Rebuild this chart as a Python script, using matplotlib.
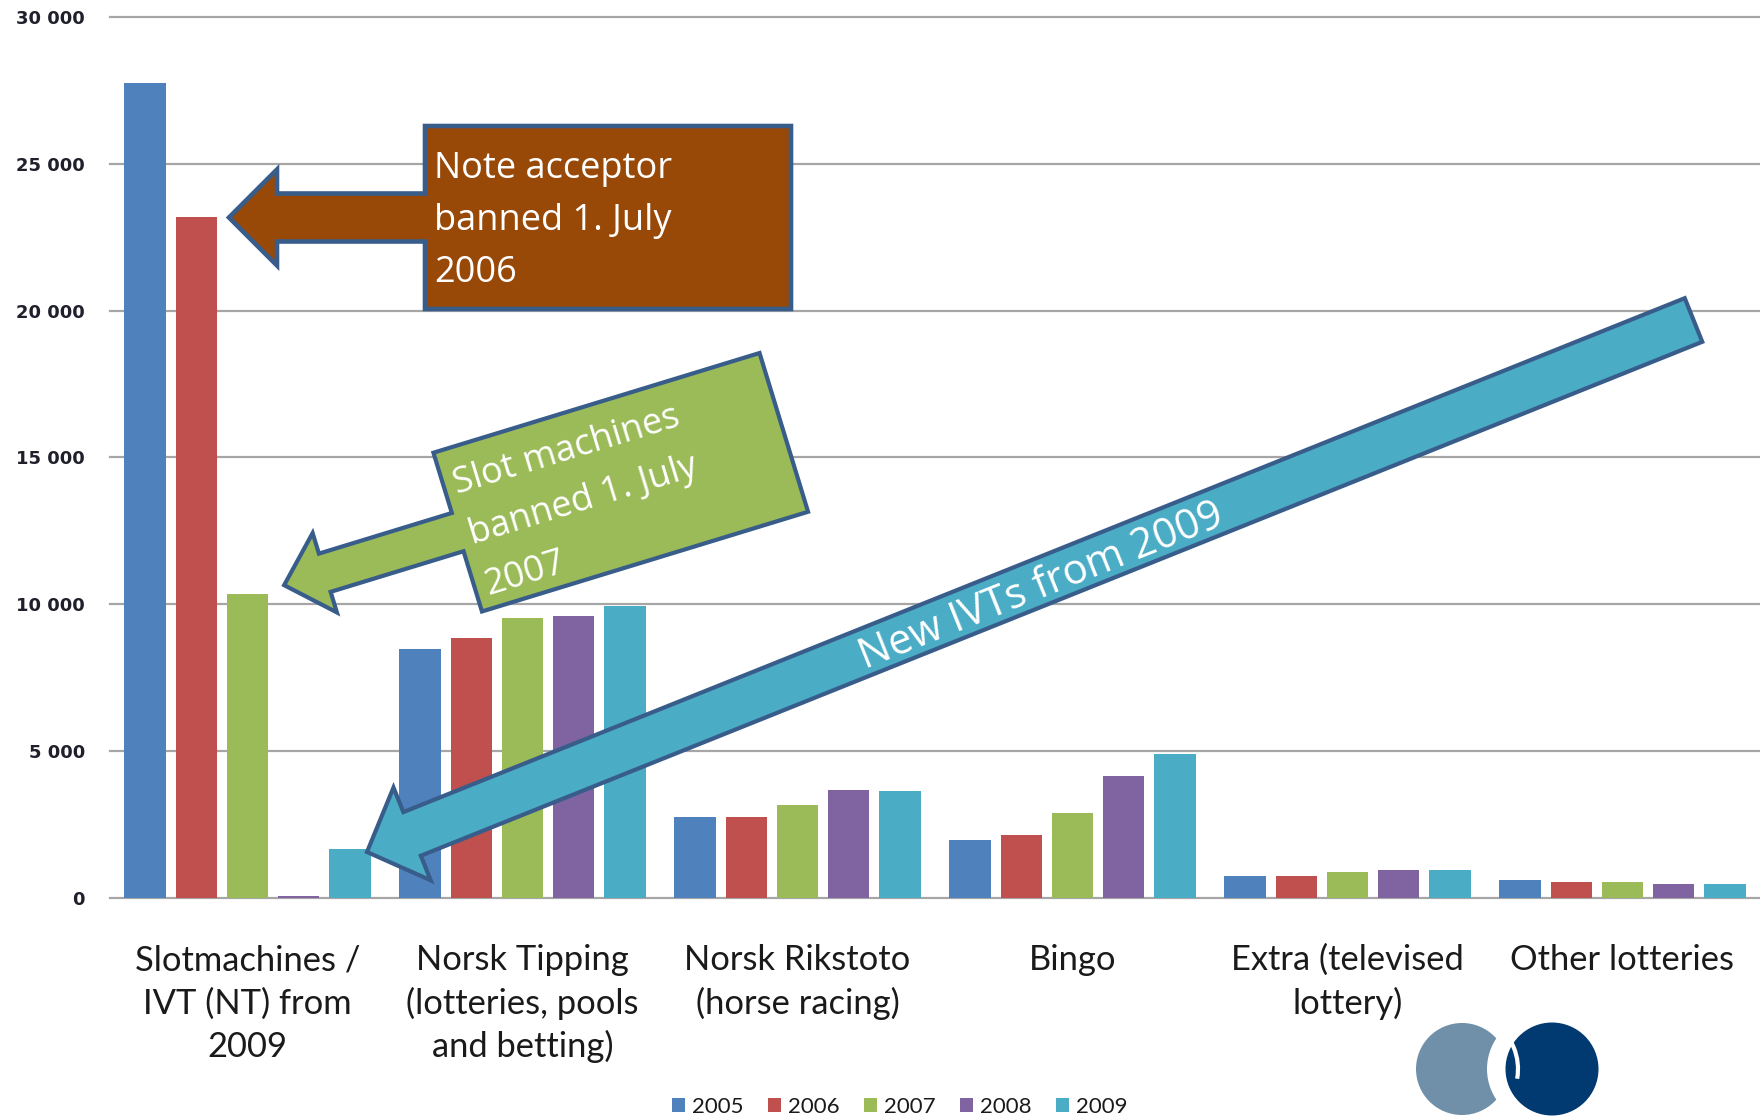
import matplotlib
matplotlib.use("Agg")
import matplotlib.pyplot as plt
import numpy as np
from matplotlib.patches import Polygon, Circle, Arc, Patch
from matplotlib.transforms import Affine2D, blended_transform_factory
from matplotlib.ticker import FuncFormatter

# ---------------- data ----------------
categories = [
    "Slotmachines /\nIVT (NT) from\n2009",
    "Norsk Tipping\n(lotteries, pools\nand betting)",
    "Norsk Rikstoto\n(horse racing)",
    "Bingo",
    "Extra (televised\nlottery)",
    "Other lotteries",
]
years = ["2005", "2006", "2007", "2008", "2009"]
values_2005 = [27750, 8470, 2750, 1960, 750, 610]
values_2006 = [23200, 8870, 2750, 2150, 750, 550]
values_2007 = [10360, 9530, 3150, 2890, 880, 545]
values_2008 = [80, 9600, 3680, 4160, 950, 490]
values_2009 = [1660, 9945, 3630, 4890, 950, 490]
ytick_values = [0, 5000, 10000, 15000, 20000, 25000, 30000]

note_1 = ["Note acceptor", "banned 1. July", "2006"]
note_2 = ["Slot machines", "banned 1. July", "2007"]
note_3 = "New IVTs from 2009"

series = [values_2005, values_2006, values_2007, values_2008, values_2009]
colors = ["#4f81bd", "#c0504d", "#9bbb59", "#8064a2", "#4bacc6"]

# ---------------- figure ----------------
W, H = 1760, 1118
fig = plt.figure(figsize=(W / 100, H / 100), dpi=100)
fig.patch.set_facecolor("white")
ax = fig.add_axes([110 / W, 1 - 898 / H, 1650 / W, 881 / H])

# pixel transform (reference pixel coords, y down)
pix = Affine2D().scale(1 / W, -1 / H).translate(0, 1) + fig.transFigure

x = np.arange(len(categories))
bw = 0.151
step = 0.186
for j, (yr, vals, c) in enumerate(zip(years, series, colors)):
    ax.bar(x + (j - 2) * step, vals, width=bw, color=c, edgecolor="none",
           zorder=2, label=yr)

ax.set_xlim(-0.5, 5.5)
ax.set_ylim(0, 30000)
ax.set_yticks(ytick_values)
ax.yaxis.set_major_formatter(FuncFormatter(lambda v, p: f"{int(v):,}".replace(",", " ")))
ax.tick_params(axis="y", length=0, pad=18, labelsize=13, labelcolor="#20202c")
plt.setp(ax.get_yticklabels(), fontweight="bold", family="DejaVu Sans")
ax.set_xticks(x)
ax.tick_params(axis="x", length=0, labelbottom=False)
ax.grid(axis="y", color="#a6a6a6", lw=1.6, zorder=0)
ax.set_axisbelow(True)
for t in ax.yaxis.get_major_ticks():
    t.gridline.set_clip_on(False)
for sp in ax.spines.values():
    sp.set_visible(False)

# category labels
tr = blended_transform_factory(ax.transData, pix)
baselines = [970, 1014, 1057]
for i, cat in enumerate(categories):
    for k, line in enumerate(cat.split("\n")):
        ax.text(i, baselines[k], line, transform=tr, ha="center", va="baseline",
                family="Lato", fontsize=24.8, color="#1a1a1a", clip_on=False)

# legend
handles = [Patch(facecolor=c, edgecolor="none") for c in colors]
fig.legend(handles, years, loc="center", bbox_to_anchor=(899.5 / W, 1 - 1107 / H),
           ncol=5, frameon=False, prop={"family": "Lato", "size": 16},
           handlelength=0.6, handleheight=0.6, handletextpad=0.3,
           columnspacing=1.1, labelcolor="#1a1a1a")

# ---------------- annotations ----------------
EDGE = "#385d8a"


def callout(cx, cy, a, b, s, h, xb, xt, theta):
    th = np.deg2rad(theta)
    u = np.array([np.cos(th), -np.sin(th)])
    v = np.array([np.sin(th), np.cos(th)])
    local = [(xt, 0), (xb, -h), (xb, -s), (-a, -s), (-a, -b), (a, -b), (a, b),
             (-a, b), (-a, s), (xb, s), (xb, h)]
    c = np.array([cx, cy])
    return [c + lx * u + ly * v for lx, ly in local], c, u, v


pts, _, _, _ = callout(608, 217.5, 183, 91.5, 24, 48, -331, -379, 0)
fig.add_artist(Polygon(pts, closed=True, transform=pix, facecolor="#984807",
                       edgecolor=EDGE, lw=3.3, joinstyle="miter", zorder=5))
for k, line in enumerate(note_1):
    fig.text(434, [178, 230, 282][k], line, transform=pix, ha="left", va="baseline",
             family="Open Sans", fontsize=26, color="white", zorder=6)

pts, c2, u2, v2 = callout(620.75, 482.25, 170.5, 83, 20, 41.5, -309.5, -352, 17)
fig.add_artist(Polygon(pts, closed=True, transform=pix, facecolor="#9bbb59",
                       edgecolor=EDGE, lw=3.0, joinstyle="miter", zorder=5))
for k, line in enumerate(note_2):
    p = c2 + (-160) * u2 + [-37, 16, 69][k] * v2
    fig.text(p[0], p[1], line, transform=pix, ha="left", va="baseline",
             rotation=17, rotation_mode="anchor", family="Open Sans",
             fontsize=26, color="white", zorder=6)

# big arrow
tail = np.array([1693.5, 320.0])
tip = np.array([367.0, 852.0])
d = (tip - tail) / np.linalg.norm(tip - tail)
n = np.array([-d[1], d[0]])
s3, h3, hl3 = 23.5, 50.0, 48.6
base = tip - hl3 * d
arrow_pts = [tail + n * s3, base + n * s3, base + n * h3, tip,
             base - n * h3, base - n * s3, tail - n * s3]
fig.add_artist(Polygon(arrow_pts, closed=True, transform=pix, facecolor="#4bacc6",
                       edgecolor=EDGE, lw=3.0, joinstyle="miter", zorder=5))
ang = np.rad2deg(np.arctan2(tip[1] - tail[1], tail[0] - tip[0]))
th3 = np.deg2rad(ang)
anchor = np.array([1040.0, 583.0]) + 15 * np.array([np.sin(th3), np.cos(th3)])
fig.text(anchor[0], anchor[1], note_3, transform=pix, ha="center", va="baseline",
         rotation=ang, rotation_mode="anchor", family="Open Sans", fontsize=30,
         color="white", zorder=6)

# logo
fig.add_artist(Circle((1462, 1069), 46, transform=pix, facecolor="#6f90a8",
                      edgecolor="none", zorder=5))
fig.add_artist(Circle((1542, 1069), 55, transform=pix, facecolor="white",
                      edgecolor="none", zorder=5))
fig.add_artist(Circle((1552, 1069), 46.5, transform=pix, facecolor="#003a70",
                      edgecolor="none", zorder=6))
fig.add_artist(Arc((1462, 1069), 112, 112, theta1=-55, theta2=10, transform=pix,
                   color="white", lw=3, zorder=7))

fig.savefig("out.png", dpi=100, facecolor="white")
